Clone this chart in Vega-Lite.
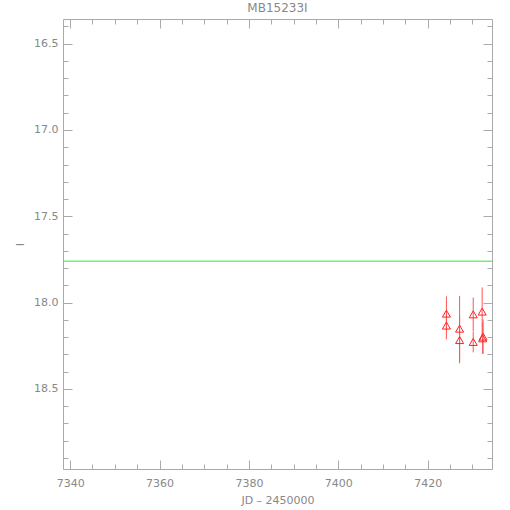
{
  "$schema": "https://vega.github.io/schema/vega-lite/v6.json",
  "width": 429,
  "height": 450,
  "autosize": {"type": "none"},
  "padding": {"left": 63, "top": 19, "right": 18, "bottom": 41},
  "background": "white",
  "title": {"text": "MB15233I", "fontSize": 12, "font": "DejaVu Sans", "fontWeight": "normal", "color": "#888888", "offset": 4},
  "config": {
    "view": {"stroke": "#aaaaaa", "strokeWidth": 1},
    "axis": {"domain": false, "grid": false, "labelFont": "DejaVu Sans", "labelFontSize": 11, "labelColor": "#888888", "titleFont": "DejaVu Sans", "titleFontSize": 11, "titleFontWeight": "normal", "titleColor": "#888888", "tickColor": "#aaaaaa", "tickWidth": 1}
  },
  "datasets": {
    "pts": [
      {"jd": 7424.2, "mag": 18.064, "lo": 17.964, "hi": 18.164},
      {"jd": 7424.2, "mag": 18.133, "lo": 18.053, "hi": 18.213},
      {"jd": 7427.15, "mag": 18.151, "lo": 17.961, "hi": 18.341},
      {"jd": 7427.15, "mag": 18.217, "lo": 18.082, "hi": 18.352},
      {"jd": 7430.2, "mag": 18.068, "lo": 17.971, "hi": 18.165},
      {"jd": 7430.2, "mag": 18.228, "lo": 18.168, "hi": 18.288},
      {"jd": 7432.2, "mag": 18.052, "lo": 17.912, "hi": 18.192},
      {"jd": 7432.4, "mag": 18.197, "lo": 18.097, "hi": 18.297},
      {"jd": 7432.3, "mag": 18.207, "lo": 18.117, "hi": 18.297}
    ],
    "ref": [{"mag": 17.76}]
  },
  "layer": [
    {
      "data": {"name": "ref"},
      "mark": {"type": "rule", "color": "#22ee22", "strokeWidth": 1},
      "encoding": {
        "y": {"field": "mag", "type": "quantitative", "axis": null}
      }
    },
    {
      "data": {"name": "pts"},
      "mark": {"type": "rule", "color": "#ff5555", "strokeWidth": 1},
      "encoding": {
        "x": {"field": "jd", "type": "quantitative", "scale": {"domain": [7338.4, 7434.4], "zero": false, "nice": false},
              "axis": {"orient": "bottom", "values": [7340, 7360, 7380, 7400, 7420], "tickSize": -9, "labelPadding": 17, "format": "d", "title": "JD  \u2013  2450000", "titlePadding": 6}},
        "y": {"field": "lo", "type": "quantitative", "scale": {"domain": [16.357, 18.964], "reverse": true, "zero": false, "nice": false},
              "axis": {"orient": "left", "values": [16.5, 17.0, 17.5, 18.0, 18.5], "tickSize": -9, "labelPadding": 14, "format": ".1f", "title": "I", "titlePadding": 8}},
        "y2": {"field": "hi"}
      }
    },
    {
      "data": {"name": "pts"},
      "mark": {"type": "point", "shape": "triangle-up", "filled": false, "color": "#ff2222", "size": 65, "strokeWidth": 1, "opacity": 1},
      "encoding": {
        "x": {"field": "jd", "type": "quantitative",
              "axis": {"orient": "bottom", "values": [7345, 7350, 7355, 7365, 7370, 7375, 7385, 7390, 7395, 7405, 7410, 7415, 7425, 7430], "tickSize": -5, "labels": false, "title": null}},
        "y": {"field": "mag", "type": "quantitative",
              "axis": {"orient": "left", "values": [16.4, 16.6, 16.7, 16.8, 16.9, 17.1, 17.2, 17.3, 17.4, 17.6, 17.7, 17.8, 17.9, 18.1, 18.2, 18.3, 18.4, 18.6, 18.7, 18.8, 18.9], "tickSize": -5, "labels": false, "title": null}}
      }
    },
    {
      "data": {"name": "pts"},
      "mark": {"type": "point", "opacity": 0},
      "encoding": {
        "x": {"field": "jd", "type": "quantitative",
              "axis": {"orient": "top", "values": [7340, 7360, 7380, 7400, 7420], "tickSize": -9, "labels": false, "title": null}},
        "y": {"field": "mag", "type": "quantitative",
              "axis": {"orient": "right", "values": [16.5, 17.0, 17.5, 18.0, 18.5], "tickSize": -9, "labels": false, "title": null}}
      }
    },
    {
      "data": {"name": "pts"},
      "mark": {"type": "point", "opacity": 0},
      "encoding": {
        "x": {"field": "jd", "type": "quantitative",
              "axis": {"orient": "top", "values": [7345, 7350, 7355, 7365, 7370, 7375, 7385, 7390, 7395, 7405, 7410, 7415, 7425, 7430], "tickSize": -5, "labels": false, "title": null}},
        "y": {"field": "mag", "type": "quantitative",
              "axis": {"orient": "right", "values": [16.4, 16.6, 16.7, 16.8, 16.9, 17.1, 17.2, 17.3, 17.4, 17.6, 17.7, 17.8, 17.9, 18.1, 18.2, 18.3, 18.4, 18.6, 18.7, 18.8, 18.9], "tickSize": -5, "labels": false, "title": null}}
      }
    }
  ],
  "resolve": {"axis": {"x": "independent", "y": "independent"}}
}
